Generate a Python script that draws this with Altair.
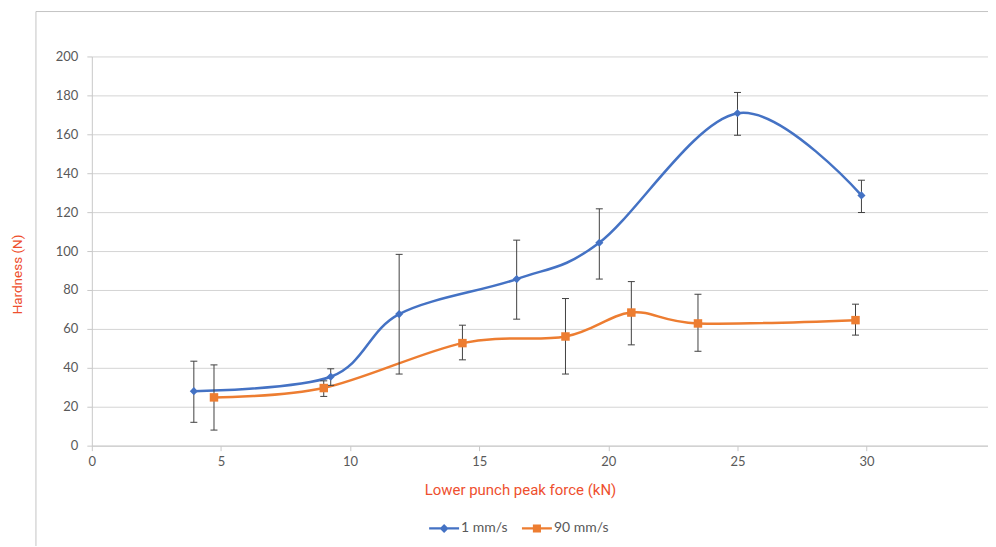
import altair as alt
import pandas as pd

series_names = ["1 mm/s", "90 mm/s"]
colors = ["#4472C4", "#ED7D31"]

force_1 = [3.95, 9.25, 11.9, 16.45, 19.65, 25.0, 29.8]
hard_1 = [28.0, 35.4, 67.6, 85.6, 104.3, 170.8, 128.6]
lo_1 = [12.0, 31.0, 36.8, 65.0, 85.6, 159.5, 119.8]
hi_1 = [43.4, 39.5, 98.3, 105.6, 121.7, 181.5, 136.4]

force_90 = [4.73, 8.98, 14.35, 18.34, 20.89, 23.47, 29.57]
hard_90 = [24.8, 29.6, 52.7, 56.1, 68.4, 62.8, 64.5]
lo_90 = [8.0, 25.3, 44.1, 36.8, 51.8, 48.5, 56.8]
hi_90 = [41.5, 33.3, 61.9, 75.6, 84.3, 77.8, 72.7]

x_ticks = [0, 5, 10, 15, 20, 25, 30]
y_ticks = [0, 20, 40, 60, 80, 100, 120, 140, 160, 180, 200]

rows = []
for s, fx, hy, lo, hi in [
    (series_names[0], force_1, hard_1, lo_1, hi_1),
    (series_names[1], force_90, hard_90, lo_90, hi_90),
]:
    for a, b, c, d in zip(fx, hy, lo, hi):
        rows.append({"series": s, "force": a, "hardness": b, "lo": c, "hi": d})
df = pd.DataFrame(rows)

TICK_FONT = "Lato"
TITLE_FONT = "Roboto"
TITLE_COLOR = "#EE4F2E"
LABEL_COLOR = "#595959"

x_scale = alt.Scale(domain=[0, 34.7], nice=False, zero=False)
y_scale = alt.Scale(domain=[0, 200], nice=False)

x_axis = alt.Axis(
    values=x_ticks, grid=False, title="Lower punch peak force (kN)",
    titleFont=TITLE_FONT, titleFontSize=15, titleFontWeight="normal", titleColor=TITLE_COLOR,
    titleX=429, titleY=44, titleAlign="center", titleBaseline="middle",
    labelFont=TICK_FONT, labelFontSize=13, labelColor=LABEL_COLOR, labelPadding=5,
    domainColor="#C8C8C8", tickColor="#C8C8C8", tickSize=5, labelFlush=False,
)
y_axis = alt.Axis(
    values=y_ticks, grid=True, gridColor="#D4D4D4", title="Hardness (N)",
    titleFont=TITLE_FONT, titleFontSize=13.5, titleFontWeight="normal", titleColor=TITLE_COLOR,
    titleX=-74, titleY=218, titleAlign="center", titleBaseline="middle", titleAngle=-90,
    labelFont=TICK_FONT, labelFontSize=13, labelColor=LABEL_COLOR, labelPadding=9,
    domainColor="#C8C8C8", tickColor="#C8C8C8", tickSize=5,
)

diamond_path = "M-1,-0.075H1V0.075H-1Z M0,-0.3L0.3,0L0,0.3L-0.3,0Z"
square_path = "M-1,-0.075H1V0.075H-1Z M-0.27,-0.27H0.27V0.27H-0.27Z"

legend = alt.Legend(
    title=None, orient="none", legendX=338, legendY=458, direction="horizontal",
    symbolSize=900, symbolStrokeWidth=0, symbolOpacity=1, labelFont=TICK_FONT, labelFontSize=14,
    labelColor=LABEL_COLOR, columnPadding=14, labelOffset=2,
)
color_scale = alt.Scale(domain=series_names, range=colors)
color_enc = alt.Color("series:N", scale=color_scale, legend=legend)

X = alt.X("force:Q", scale=x_scale, axis=x_axis)
def Y(field):
    return alt.Y(field, type="quantitative", scale=y_scale, axis=y_axis)

base = alt.Chart(df)

lines = base.mark_line(interpolate="cardinal", strokeWidth=2.5).encode(
    x=X, y=Y("hardness"), color=color_enc,
)

err = base.mark_rule(color="#404040", strokeWidth=1).encode(
    x=X, y=Y("lo"), y2="hi:Q",
)
cap_lo = base.mark_point(shape="stroke", size=49, filled=False, color="#404040", strokeWidth=1, opacity=1).encode(
    x=X, y=Y("lo"),
)
cap_hi = base.mark_point(shape="stroke", size=49, filled=False, color="#404040", strokeWidth=1, opacity=1).encode(
    x=X, y=Y("hi"),
)

pts_1 = base.transform_filter(alt.datum.series == series_names[0]).mark_point(
    shape="diamond", size=66, filled=True, color=colors[0], opacity=1
).encode(x=X, y=Y("hardness"))
pts_90 = base.transform_filter(alt.datum.series == series_names[1]).mark_point(
    shape="square", size=72, filled=True, color=colors[1], opacity=1
).encode(x=X, y=Y("hardness"))

# legend-only layer: no rows survive the filter, the legend comes from the scale domains
legend_layer = base.transform_filter(alt.datum.force < -1000).mark_point(filled=True, opacity=1).encode(
    x=X, y=Y("hardness"),
    color=color_enc,
    shape=alt.Shape("series:N", scale=alt.Scale(domain=series_names, range=[diamond_path, square_path]), legend=legend),
)

border = alt.Chart(alt.Data(values=[{"k": 1}])).mark_rule(color="#C4C4C4", strokeWidth=1, clip=False).encode(
    x=alt.value(-56), x2=alt.value(920), y=alt.value(-45)
)
border_left = alt.Chart(alt.Data(values=[{"k": 1}])).mark_rule(color="#C4C4C4", strokeWidth=1, clip=False).encode(
    x=alt.value(-56), y=alt.value(-45), y2=alt.value(500)
)

chart = alt.layer(
    border, border_left, lines, err, cap_lo, cap_hi, pts_1, pts_90, legend_layer
).properties(
    width=898, height=390,
    autosize=alt.AutoSizeParams(type="none"),
    padding={"left": 84, "top": 48, "right": 0, "bottom": 100},
).configure_view(stroke=None)

chart.save("out.html", embed_options={"renderer": "svg", "actions": False})
